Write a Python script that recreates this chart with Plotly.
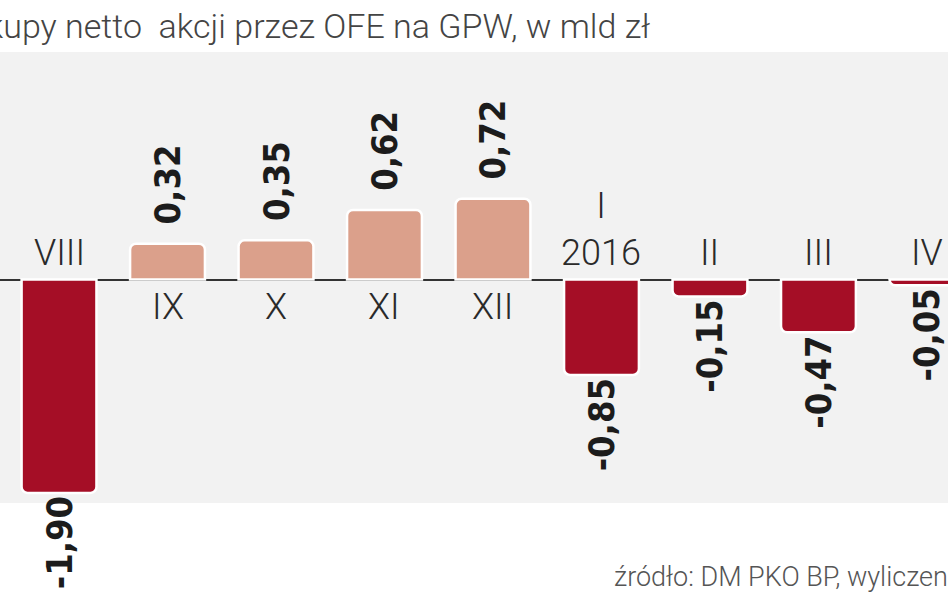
import plotly.graph_objects as go

# Net purchases of shares by OFE on GPW, bn PLN
months = ["VIII", "IX", "X", "XI", "XII", "I<br>2016", "II", "III", "IV"]
values = [-1.90, 0.32, 0.35, 0.62, 0.72, -0.85, -0.15, -0.47, -0.05]

title_text = "Zakupy netto  akcji przez OFE na GPW, w mld zł"
source_text = "źródło: DM PKO BP, wyliczenia"

POS_COLOR = "#DBA08B"
NEG_COLOR = "#A50E26"

x_idx = list(range(len(months)))
bar_colors = [POS_COLOR if v >= 0 else NEG_COLOR for v in values]
# small space in front of positive labels pushes them a bit away from the bar top
bar_text = [("\u2002" if v >= 0 else "") + f"{v:.2f}".replace(".", ",") for v in values]

fig = go.Figure()

fig.add_trace(go.Bar(
    x=x_idx, y=values,
    width=0.69,
    marker=dict(color=bar_colors, line=dict(color="white", width=2.5), cornerradius=6),
    text=bar_text,
    textposition="outside",
    textangle=-90,
    constraintext="none",
    cliponaxis=False,
    textfont=dict(family="DejaVu Sans Condensed, DejaVu Sans", size=36, color="#1c1c1c", weight="bold"),
    hoverinfo="skip",
))

# month labels: below the line for positive bars, above it for negative ones
for i, (m, v) in enumerate(zip(months, values)):
    if v >= 0:
        fig.add_annotation(x=i, y=0, text=m, showarrow=False, yanchor="top", yshift=-4,
                           font=dict(family="Roboto", size=36, color="#2a2a2a", weight=300))
    else:
        fig.add_annotation(x=i, y=0, text=m, showarrow=False, yanchor="bottom", yshift=4,
                           font=dict(family="Roboto", size=36, color="#2a2a2a", weight=300))

fig.add_annotation(text=title_text, xref="paper", yref="paper", x=652 / 948, y=1.058,
                   xanchor="right", yanchor="middle", showarrow=False,
                   font=dict(family="Roboto", size=34, color="#444444", weight=300))
fig.add_annotation(text=source_text, xref="paper", yref="paper", x=612 / 948, y=-0.165,
                   xanchor="left", yanchor="middle", showarrow=False,
                   font=dict(family="Roboto", size=27, color="#555555", weight=300))

fig.update_layout(
    width=948, height=593,
    margin=dict(l=0, r=0, t=52, b=90),
    paper_bgcolor="white",
    plot_bgcolor="#F2F2F2",
    showlegend=False,
    xaxis=dict(range=[-0.544, 8.194], showticklabels=False, showgrid=False, zeroline=False),
    yaxis=dict(range=[-1.99, 2.027], showticklabels=False, showgrid=False,
               zeroline=True, zerolinecolor="#333333", zerolinewidth=2),
)

fig.write_html("out.html", config={"displayModeBar": False},
               post_script="document.body.style.margin='0';")
